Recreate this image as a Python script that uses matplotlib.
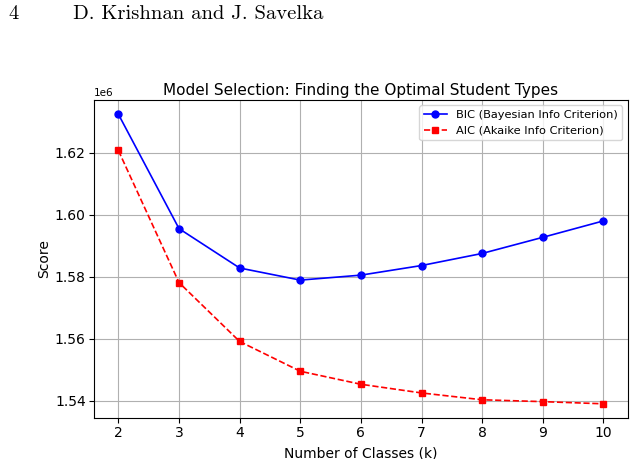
import matplotlib
matplotlib.use("Agg")
import matplotlib.pyplot as plt

k_values = [2, 3, 4, 5, 6, 7, 8, 9, 10]
bic_scores = [1632400, 1595500, 1582800, 1578900, 1580500, 1583600, 1587500, 1592700, 1598000]
aic_scores = [1620700, 1578100, 1559100, 1549500, 1545300, 1542500, 1540300, 1539700, 1539000]

fig = plt.figure(figsize=(6.36, 4.59), dpi=100)
ax = fig.add_axes([0.148, 0.0887, 0.839, 0.694])

ax.plot(k_values, bic_scores, color="blue", marker="o", linestyle="-", markersize=5,
        linewidth=1.2, label="BIC (Bayesian Info Criterion)")
ax.plot(k_values, aic_scores, color="red", marker="s", linestyle="--", markersize=5,
        linewidth=1.2, label="AIC (Akaike Info Criterion)")

ax.set_xticks(k_values)
ax.tick_params(axis="x", pad=2)
ax.tick_params(axis="y", pad=2.5)
ax.set_xlabel("Number of Classes (k)")
ax.set_ylabel("Score")
ax.xaxis.set_label_coords(0.5, -0.087)
ax.yaxis.set_label_coords(-0.081, 0.5)
ax.yaxis.get_offset_text().set_fontsize(7.5)
ax.set_title("Model Selection: Finding the Optimal Student Types", fontsize=11, pad=3.5)
ax.grid(True, color="#b0b0b0", linewidth=0.8)
ax.legend(loc="upper right", fontsize=8.2)

fig.text(8 / 636, 1 - 14 / 459, "4", family="cmr10", fontsize=14.9, va="center", ha="left")
fig.text(73 / 636, 1 - 14 / 459, "D. Krishnan and J. Savelka", family="cmr10", fontsize=14.9,
         va="center", ha="left")

fig.savefig("out.png", dpi=100)
